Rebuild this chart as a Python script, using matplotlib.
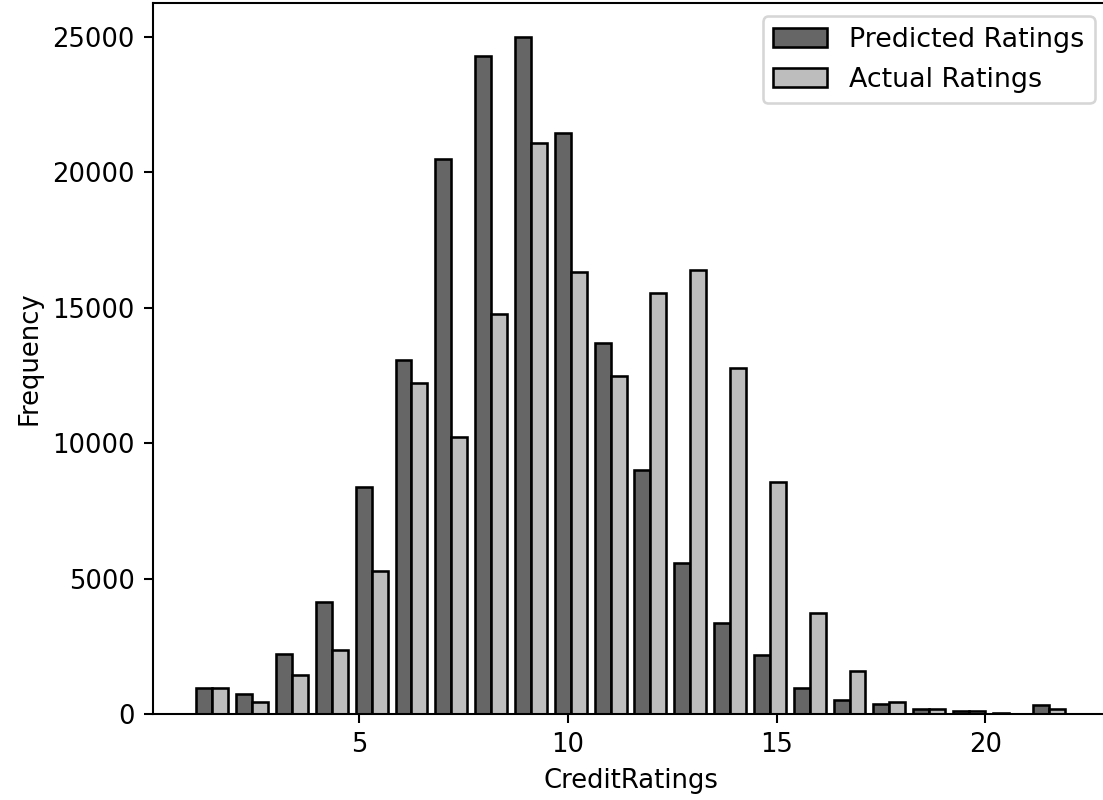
import numpy as np
import matplotlib
matplotlib.use("Agg")
import matplotlib.pyplot as plt

# credit rating bins (22 bins between rating 1 and 22)
rating_min, rating_max, n_bins = 1, 22, 22

predicted = [970, 750, 2230, 4150, 8360, 13050, 20470, 24280, 24990, 21440,
             13680, 8990, 5560, 3370, 2180, 960, 520, 370, 185, 110, 37, 320]
actual = [970, 430, 1440, 2380, 5290, 12200, 10210, 14750, 21080, 16310,
          12470, 15530, 16380, 12780, 8580, 3730, 1590, 455, 185, 110, 5, 185]

edges = np.linspace(rating_min, rating_max, n_bins + 1)
centers = (edges[:-1] + edges[1:]) / 2

dpi = 186
fig = plt.figure(figsize=(1103 / dpi, 800 / dpi), dpi=dpi)
ax = fig.add_axes([153 / 1103, 86 / 800, 955 / 1103, 711 / 800])

ax.hist([centers, centers], bins=edges, weights=[predicted, actual],
        rwidth=0.8, color=['#666666', '#bdbdbd'], edgecolor='black',
        label=['Predicted Ratings', 'Actual Ratings'])

ax.set_xlabel('CreditRatings')
ax.set_ylabel('Frequency')
ax.legend(loc='upper right', fontsize=10.4)

fig.savefig('out.png', dpi=dpi)
